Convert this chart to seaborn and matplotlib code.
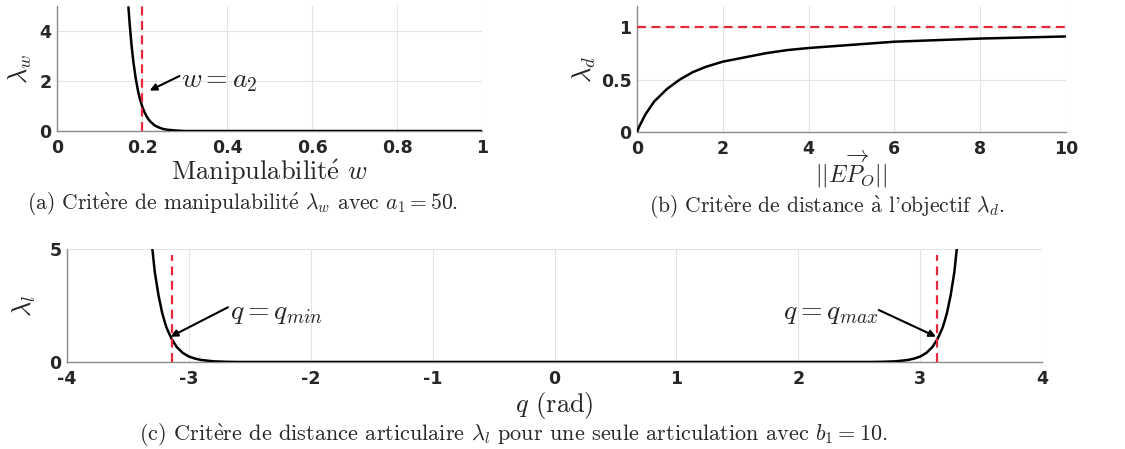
import numpy as np
import pandas as pd
import matplotlib
matplotlib.use("Agg")
import matplotlib.pyplot as plt
import seaborn as sns

# values
manip_w = [0.168, 0.171, 0.175, 0.178, 0.18, 0.185, 0.19, 0.195, 0.2, 0.205, 0.21,
           0.215, 0.22, 0.23, 0.24, 0.25, 0.26, 0.28, 0.3, 1.0]
lambda_w = [4.95, 4.26, 3.49, 3.0, 2.72, 2.12, 1.65, 1.28, 1.0, 0.78, 0.61,
            0.47, 0.37, 0.22, 0.14, 0.08, 0.05, 0.02, 0.0, 0.0]

dist_ep = [0.0, 0.05, 0.1, 0.2, 0.3, 0.4, 0.5, 0.7, 1.0, 1.3, 1.6, 2.0, 2.5, 3.0,
           3.5, 4.0, 5.0, 6.0, 7.0, 8.0, 9.0, 10.0]
lambda_d = [0.0, 0.05, 0.09, 0.17, 0.23, 0.29, 0.33, 0.41, 0.5, 0.57, 0.62, 0.67,
            0.71, 0.75, 0.78, 0.8, 0.83, 0.86, 0.875, 0.89, 0.9, 0.91]

q_rad = [-3.30, -3.28, -3.25, -3.22, -3.2, -3.185, -3.17, -3.14, -3.1, -3.05,
         -3.0, -2.95, -2.9, -2.8, -2.7, -2.6, 2.6, 2.7, 2.8, 2.9, 2.95, 3.0,
         3.05, 3.1, 3.14, 3.17, 3.185, 3.2, 3.22, 3.25, 3.28, 3.30]
lambda_l = [5.0, 3.97, 2.96, 2.18, 1.8, 1.54, 1.35, 1.0, 0.66, 0.40,
            0.24, 0.15, 0.09, 0.03, 0.01, 0.0, 0.0, 0.01, 0.03, 0.09, 0.15, 0.24,
            0.40, 0.66, 1.0, 1.35, 1.54, 1.8, 2.18, 2.96, 3.97, 5.0]

a2 = 0.2
q_min, q_max = -3.1416, 3.1416
target = 1.0

sns.set_theme(style="whitegrid")
plt.rcParams["mathtext.fontset"] = "cm"
plt.rcParams["font.family"] = ["DejaVu Sans"]
plt.rcParams["axes.unicode_minus"] = False

RED = "#e8263c"
GREY = "#8c8c8c"
serif = ["cmr10", "DejaVu Serif"]
TICK_FS = 12.5
LAB_FS = 19
ANN_FS = 20

fig = plt.figure(figsize=(11.25, 4.49), dpi=100)
ax_a = fig.add_axes([0.0507, 0.7082, 0.3778, 0.2784])
ax_b = fig.add_axes([0.5662, 0.7060, 0.3813, 0.2806])
ax_c = fig.add_axes([0.0596, 0.1938, 0.8667, 0.2517])


def style(ax):
    ax.set_facecolor("white")
    ax.grid(True, color="#e4e4e4", lw=0.8)
    for s in ["top", "right"]:
        ax.spines[s].set_visible(False)
    for s in ["left", "bottom"]:
        ax.spines[s].set_visible(True)
        ax.spines[s].set_color(GREY)
        ax.spines[s].set_linewidth(1.0)
    ax.tick_params(direction="in", length=3, width=0.8, color=GREY)
    ax.tick_params(axis="x", pad=6)
    ax.tick_params(axis="y", pad=4)
    for lab in ax.get_xticklabels() + ax.get_yticklabels():
        lab.set_fontsize(TICK_FS)
        lab.set_fontweight("bold")


def arrow(ax, tail, tip):
    ax.annotate("", xy=tip, xytext=tail,
                arrowprops=dict(arrowstyle="-|>", color="black", lw=1.5,
                                mutation_scale=10, shrinkA=0, shrinkB=0))


# (a) manipulability
sns.lineplot(x=manip_w, y=lambda_w, ax=ax_a, color="black", lw=1.8, zorder=3)
ax_a.axvline(a2, color=RED, lw=1.6, dashes=(4, 2.5), zorder=4)
ax_a.set_xlim(0, 1)
ax_a.set_ylim(0, 5)
ax_a.set_xticks([0, 0.2, 0.4, 0.6, 0.8, 1])
ax_a.set_xticklabels(["0", "0.2", "0.4", "0.6", "0.8", "1"])
ax_a.set_yticks([0, 2, 4])
style(ax_a)
ax_a.set_xlabel(r"Manipulabilit$\acute{\mathrm{e}}$ $w$", family=serif,
                fontsize=LAB_FS, labelpad=0)
ax_a.set_ylabel(r"$\lambda_w$", fontsize=LAB_FS, labelpad=4)
ax_a.text(0.292, 2.05, "$w = a_2$", fontsize=ANN_FS, va="center", ha="left")
arrow(ax_a, (0.288, 2.2), (0.218, 1.62))

# (b) distance to target
sns.lineplot(x=dist_ep, y=lambda_d, ax=ax_b, color="black", lw=1.8, zorder=3)
ax_b.axhline(target, color=RED, lw=1.6, dashes=(4, 2.5), zorder=4)
ax_b.set_xlim(0, 10)
ax_b.set_ylim(0, 1.2)
ax_b.set_xticks([0, 2, 4, 6, 8, 10])
ax_b.set_yticks([0, 0.5, 1])
ax_b.set_yticklabels(["0", "0.5", "1"])
style(ax_b)
ax_b.set_xlabel(r"$||\overrightarrow{EP_O}||$", fontsize=17, labelpad=-7)
ax_b.set_ylabel(r"$\lambda_d$", fontsize=LAB_FS, labelpad=2)

# (c) joint distance
sns.lineplot(x=q_rad, y=lambda_l, ax=ax_c, color="black", lw=1.8, zorder=3)
ax_c.axvline(q_min, ymax=0.95, color=RED, lw=1.6, dashes=(4, 2.5), zorder=4)
ax_c.axvline(q_max, ymax=0.95, color=RED, lw=1.6, dashes=(4, 2.5), zorder=4)
ax_c.set_xlim(-4, 4)
ax_c.set_ylim(0, 5)
ax_c.set_xticks(range(-4, 5))
ax_c.set_yticks([0, 5])
style(ax_c)
ax_c.set_xlabel("$q$ (rad)", family=serif, fontsize=LAB_FS, labelpad=1)
ax_c.set_ylabel(r"$\lambda_l$", fontsize=LAB_FS, labelpad=8)
ax_c.text(-2.66, 2.2, "$q = q_{min}$", fontsize=ANN_FS, va="center", ha="left")
arrow(ax_c, (-2.68, 2.42), (-3.15, 1.12))
ax_c.text(2.66, 2.2, "$q = q_{max}$", fontsize=ANN_FS, va="center", ha="right")
arrow(ax_c, (2.66, 2.3), (3.13, 1.12))

# captions
cap = dict(family=serif, fontsize=15.5, ha="center", va="center")
e_grave = r"$\grave{\mathrm{e}}$"
a_grave = r"$\grave{\mathrm{a}}$"
fig.text(242 / 1125, 1 - 204 / 449,
         "(a) Crit" + e_grave + r"re de manipulabilit$\acute{\mathrm{e}}$ $\lambda_w$ avec $a_1 = 50$.",
         **cap)
fig.text(827 / 1125, 1 - 207 / 449,
         "(b) Crit" + e_grave + "re de distance " + a_grave + r" l'objectif $\lambda_d$.",
         **cap)
fig.text(513 / 1125, 1 - 435 / 449,
         "(c) Crit" + e_grave + r"re de distance articulaire $\lambda_l$ pour une seule articulation avec $b_1 = 10$.",
         fontsize=16, family=serif, ha="center", va="center")

fig.savefig("out.png", dpi=100)
